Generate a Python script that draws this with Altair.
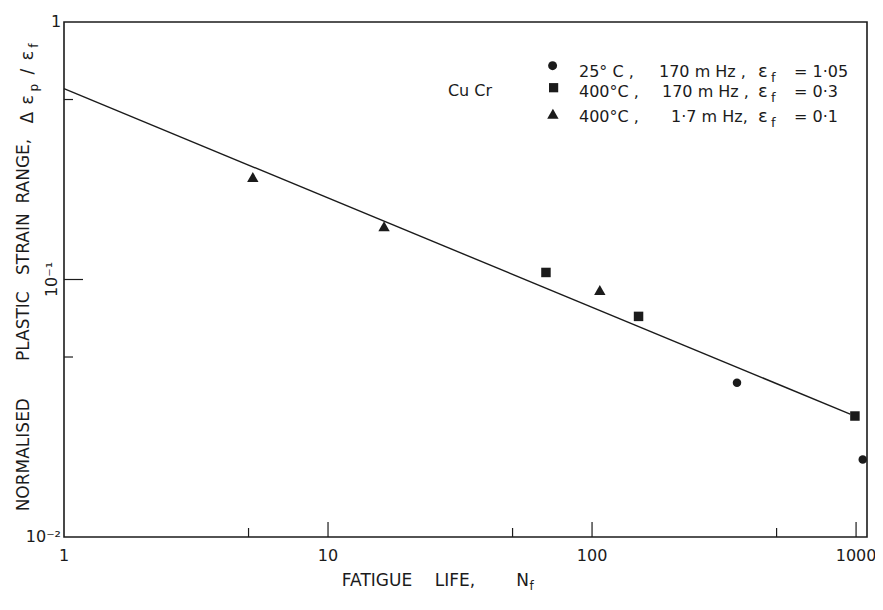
import altair as alt
import pandas as pd

INK = "#1b1b1b"
FONT = "DejaVu Sans"

# ---------------- data ----------------
circle_N = [354, 1060]            # 25 C, 170 mHz
circle_S = [0.0397, 0.0200]
square_N = [66.9, 150, 990]       # 400 C, 170 mHz
square_S = [0.1065, 0.0719, 0.0295]
triangle_N = [5.19, 16.3, 107]    # 400 C, 1.7 mHz
triangle_S = [0.250, 0.161, 0.091]
fit_N = [1, 950]                  # fitted straight line
fit_S = [0.551, 0.0300]

x_label_values = [1, 10, 100, 1000]
x_label_texts = ["1", "10", "100", "1000"]
x_major_ticks = [10, 100, 1000]
x_minor_ticks = [5, 50, 500]
y_major_ticks = [0.1]
y_minor_ticks = [0.05, 0.5]
y_label_texts = ["1", "10⁻¹", "10⁻²"]

legend_temps = ["25° C ,", "400°C ,", "400°C ,"]
legend_freqs = ["170 m Hz ,", "170 m Hz ,", "1·7 m Hz,"]
legend_eps = ["= 1·05", "= 0·3", "= 0·1"]
material = "Cu Cr"
x_title_words = ["FATIGUE", "LIFE,", "N", "f"]
y_title_words = ["NORMALISED", "PLASTIC", "STRAIN", "RANGE,"]
y_title_math = ["Δ", "ε", "p", "/", "ε", "f"]

# ---------------- chart ----------------
W, H = 803, 515
xs = alt.Scale(type="log", domain=[1, 1100])
ys = alt.Scale(type="log", domain=[0.01, 1])
one = pd.DataFrame({"k": [0]})


def X(field="N"):
    return alt.X(f"{field}:Q", scale=xs, axis=None)


def Y(field="S"):
    return alt.Y(f"{field}:Q", scale=ys, axis=None)


def pts(N, S, shape, size):
    df = pd.DataFrame({"N": N, "S": S})
    return alt.Chart(df).mark_point(shape=shape, filled=True, size=size,
                                    color=INK, opacity=1).encode(x=X(), y=Y())


def label(text, x, y, size=16, align="left", angle=0):
    return alt.Chart(one).mark_text(text=text, font=FONT, fontSize=size, align=align,
                                    baseline="alphabetic", angle=angle,
                                    color=INK).encode(x=alt.value(x), y=alt.value(y))


def legend_marker(shape, size, x, y):
    return alt.Chart(one).mark_point(shape=shape, filled=True, size=size, color=INK,
                                     opacity=1).encode(x=alt.value(x), y=alt.value(y))


layers = []

# ticks (inward)
layers.append(alt.Chart(pd.DataFrame({"N": x_major_ticks})).mark_rule(color=INK, strokeWidth=1.2)
              .encode(x=X(), y=alt.value(H), y2=alt.value(H - 15)))
layers.append(alt.Chart(pd.DataFrame({"N": x_minor_ticks})).mark_rule(color=INK, strokeWidth=1.2)
              .encode(x=X(), y=alt.value(H), y2=alt.value(H - 9)))
layers.append(alt.Chart(pd.DataFrame({"S": y_major_ticks})).mark_rule(color=INK, strokeWidth=1.2)
              .encode(y=Y(), x=alt.value(0), x2=alt.value(19)))
layers.append(alt.Chart(pd.DataFrame({"S": y_minor_ticks})).mark_rule(color=INK, strokeWidth=1.2)
              .encode(y=Y(), x=alt.value(0), x2=alt.value(9)))

# fit line
layers.append(alt.Chart(pd.DataFrame({"N": fit_N, "S": fit_S}))
              .mark_line(color=INK, strokeWidth=1.4).encode(x=X(), y=Y()))

# data points
layers.append(pts(circle_N, circle_S, "circle", 72))
layers.append(pts(square_N, square_S, "square", 90))
layers.append(pts(triangle_N, triangle_S, "triangle-up", 130))

# x tick labels
layers.append(alt.Chart(pd.DataFrame({"N": x_label_values, "t": x_label_texts}))
              .mark_text(font=FONT, fontSize=16, align="center", baseline="alphabetic", color=INK)
              .encode(x=X(), y=alt.value(538.5), text="t:N"))

# y tick labels
layers.append(label(y_label_texts[0], -8, 4.5, align="center"))
layers.append(label(y_label_texts[1], -7, 257.5, align="center", angle=270))
layers.append(label(y_label_texts[2], -3, 520, align="right"))

# x title
layers.append(label(x_title_words[0], 313, 564, size=17, align="center"))
layers.append(label(x_title_words[1], 391, 564, size=17, align="center"))
layers.append(label(x_title_words[2], 458.6, 564, size=17, align="center"))
layers.append(label(x_title_words[3], 465.5, 567.5, size=12))

# y title (rotated, reading upward)
for word, yc in zip(y_title_words, [432.7, 304.2, 222.2, 149.2]):
    layers.append(label(word, -35, yc, size=17, align="center", angle=270))
for sym, xc, yc, sz in zip(y_title_math, [-31, -31, -26, -31, -31, -26],
                           [95.7, 78, 65.7, 49.7, 33.7, 23.7], [17, 18, 12, 17, 18, 12]):
    layers.append(label(sym, xc, yc, size=sz, align="center", angle=270))

# material label
layers.append(label(material, 406, 74, align="center"))

# legend
layers.append(legend_marker("circle", 80, 488.6, 43.7))
layers.append(legend_marker("square", 85, 489.6, 65.7))
layers.append(legend_marker("triangle-up", 130, 488.9, 91.8))
row_base = [54.5, 75, 100]
col2_x = [595, 598, 607]
for i in range(3):
    layers.append(label(legend_temps[i], 515, row_base[i]))
    layers.append(label(legend_freqs[i], col2_x[i], row_base[i]))
    layers.append(label("ε", 694, row_base[i], size=18))
    layers.append(label("f", 707, row_base[i] + 5, size=13))
    layers.append(label(legend_eps[i], 730, row_base[i]))

chart = alt.layer(*layers).properties(
    width=W, height=H,
    padding={"left": 56, "top": 14, "right": 8, "bottom": 58},
    autosize=alt.AutoSizeParams(type="none"),
    background="white",
).configure_view(stroke=INK, strokeWidth=1.6)

chart.save("out.html", embed_options={"renderer": "svg", "actions": False})
